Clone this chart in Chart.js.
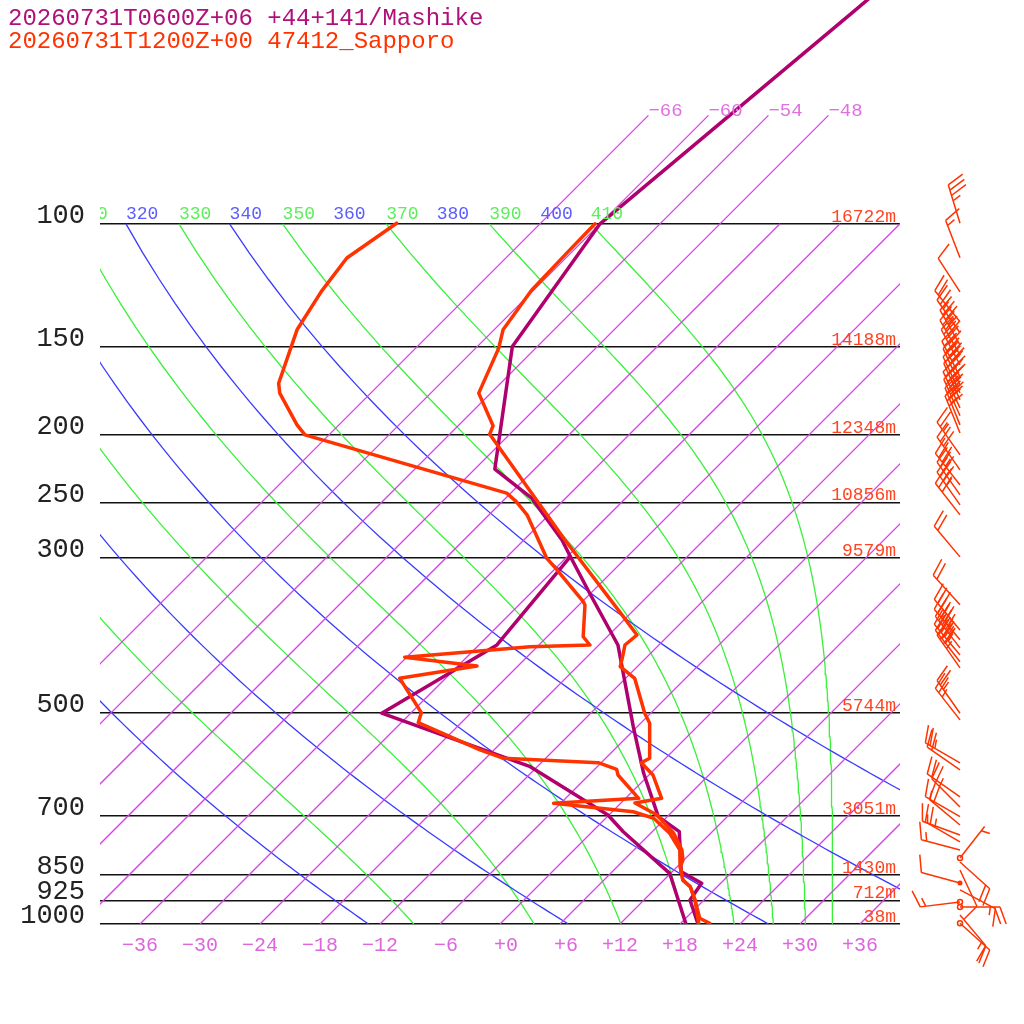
<!DOCTYPE html>
<html>
<head>
<meta charset="utf-8">
<title>Skew-T Sapporo / Mashike</title>
<script src="https://cdn.jsdelivr.net/npm/chart.js@4.4.1/dist/chart.umd.min.js"></script>
<style>
html, body { margin: 0; padding: 0; background: #fff; }
#box { width: 1024px; height: 1024px; }
</style>
</head>
<body>
<div id="box"><canvas id="skewt" width="1024" height="1024"></canvas></div>
<script>
// header lines
var titleFcst = '20260731T0600Z+06 +44+141/Mashike';
var titleObs = '20260731T1200Z+00 47412_Sapporo';

// horizontal pressure lines and the heights written on them
var pressureLevels = [100, 150, 200, 250, 300, 500, 700, 850, 925, 1000];
var levelHeights = ['16722m', '14188m', '12348m', '10856m', '9579m', '5744m', '3051m', '1430m', '712m', '38m'];
var tempTicks = [-36, -30, -24, -18, -12, -6, 0, 6, 12, 18, 24, 30, 36];

// background lines of the diagram
var isotherms = [-66, -60, -54, -48, -42, -36, -30, -24, -18, -12, -6, 0, 6, 12, 18, 24, 30, 36];
var isothermsHigh = [-66, -60, -54, -48];   // these run up to 70 hPa and get a label
var dryTheta = [240, 260, 280, 300, 320, 340, 360, 380, 400];
var moistThetaE = [250, 270, 290, 310, 330, 350, 370, 390, 410];

// Mashike forecast (purple)
var fcTempP = [40, 50, 100, 149.7, 224.0, 246.5, 282.8, 298.7, 337.0, 399.5, 522.6, 609.2, 702.6, 738.2, 842.0, 874.8, 924.1, 1000];
var fcTemp  = [-54.6, -55.9, -60.0, -56.5, -46.0, -39.4, -32.2, -29.7, -24.1, -16.1, -6.4, -0.7, 5.1, 8.7, 12.9, 16.1, 16.6, 19.8];
var fcDewP  = [298.7, 399.5, 500.0, 596.1, 698.8, 738.2, 846.5, 1000];
var fcDew   = [-29.7, -28.2, -32.9, -12.7, -0.1, 3.1, 11.9, 18.6];

// Sapporo sounding (red)
var obsTempP = [100, 110.2, 124.5, 141.7, 150.5, 174.5, 194.3, 199.7, 282.8, 363.9, 386.6, 399.5, 412.8, 429.0, 445.7, 500.0, 516.8, 579.9, 588.3, 612.6, 661.5, 671.7, 698.8, 742.0, 784.1, 810.4, 828.3, 865.6, 884.6, 924.1, 981.4, 997.7];
var obsTemp  = [-60.5, -60.4, -60.2, -59.1, -57.7, -55.2, -50.5, -50.0, -31.9, -18.4, -15.2, -15.4, -14.6, -13.7, -11.1, -6.6, -5.1, -1.6, -2.0, 0.4, 3.6, 1.4, 4.8, 8.3, 10.8, 11.9, 12.3, 13.9, 15.3, 17.1, 19.4, 20.9];
var obsDewP  = [99.8, 111.9, 124.9, 141.7, 168.9, 174.5, 193.7, 200.2, 242.5, 249.3, 260.4, 300.3, 312.1, 346.4, 350.2, 388.8, 399.5, 401.8, 415.9, 428.0, 445.7, 499.0, 515.8, 564.2, 579.9, 588.3, 601.2, 612.6, 661.5, 672.4, 691.3, 706.3, 742.0, 784.1, 815.6, 828.3, 865.6, 884.6, 924.1, 997.7];
var obsDew   = [-80.4, -81.9, -81.1, -79.7, -76.2, -75.1, -70.2, -68.4, -42.4, -40.6, -38.2, -31.9, -29.7, -23.9, -23.4, -20.4, -18.9, -24.7, -36.2, -28.1, -34.6, -29.0, -28.3, -19.4, -16.2, -6.3, -3.8, -3.1, 1.3, -6.7, 2.1, 4.8, 7.9, 10.6, 11.8, 12.3, 13.9, 15.3, 17.1, 19.8];

// Sapporo winds: pressure, direction (deg), speed (kt)
var windP   = [99.8, 111.8, 125.1, 138.0, 143.1, 148.9, 153.9, 159.0, 165.4, 169.8, 174.4, 178.4, 183.2, 188.0, 193.7, 198.9, 213.8, 224.6, 236.0, 243.9, 252.0, 260.4, 299.0, 350.1, 380.2, 392.8, 403.3, 412.8, 422.2, 430.7, 500.0, 511.1, 588.8, 602.6, 658.4, 680.5, 702.6, 722.2, 746.1, 763.5, 784.1, 804.8, 815.6, 837.4, 873.7, 894.0, 930.2, 945.6, 970.8, 997.7];
var windDir = [343, 339, 327, 321, 325, 330, 330, 332, 333, 335, 335, 336, 335, 336, 338, 338, 325, 325, 322, 325, 325, 322, 320, 318, 320, 320, 322, 320, 322, 325, 325, 322, 300, 305, 305, 315, 300, 310, 290, 300, 285, 38, 132, 155, 285, 118, 263, 90, 140, 132];
var windKt  = [35, 15, 10, 20, 25, 35, 40, 45, 50, 50, 50, 45, 45, 40, 35, 30, 25, 30, 35, 35, 35, 30, 20, 20, 35, 45, 45, 45, 40, 35, 25, 25, 25, 20, 20, 25, 15, 20, 15, 25, 15, 5, 20, 10, 10, 15, 15, 20, 15, 20];
var windRing = [804.8, 873.7, 930.2, 945.6, 997.7];   // levels drawn with a ring at the staff foot
var windRingFilled = 873.7;

var SKEW = 70;        // degrees of skew per decade of pressure
var KAPPA = 0.2857;
var P_TOP = 47.9;
var MONO = '"Liberation Mono", "DejaVu Sans Mono", monospace';

function skewX(t, p) { return t + SKEW * Math.log10(1000 / p); }

function satMix(tc, p) {
  var es = 6.112 * Math.exp(17.67 * tc / (tc + 243.5));
  return 622 * es / (p - es);
}
function thetaE(tc, p) {
  var tk = tc + 273.15, r = satMix(tc, p);
  return tk * Math.pow(1000 / p, 0.2854 * (1 - 0.00028 * r)) *
    Math.exp((3.376 / tk - 0.00254) * r * (1 + 0.00081 * r));
}
function moistT(te, p) {
  var lo = -150, hi = 40, mid = 0;
  for (var i = 0; i < 60; i++) {
    mid = (lo + hi) / 2;
    if (thetaE(mid, p) > te) hi = mid; else lo = mid;
  }
  return mid;
}
function dryT(th, p) { return th * Math.pow(p / 1000, KAPPA) - 273.15; }

function profile(ps, ts) {
  return ps.map(function (p, i) { return { x: skewX(ts[i], p), y: p }; });
}
function curve(fn) {
  var pts = [];
  for (var p = 1000; p >= 100; p -= 10) pts.push({ x: skewX(fn(p), p), y: p });
  return pts;
}

var datasets = [];
function bgLine(data, color) {
  datasets.push({ data: data, borderColor: color, backgroundColor: color, borderWidth: 1.3, pointRadius: 0, order: 10 });
}
function soundingLine(data, color, order) {
  datasets.push({ data: data, borderColor: color, borderWidth: 3.5, borderJoinStyle: 'round', borderCapStyle: 'round', pointRadius: 0, order: order });
}
isotherms.forEach(function (t) {
  var top = isothermsHigh.indexOf(t) >= 0 ? 70 : 100;
  bgLine([{ x: skewX(t, 1000), y: 1000 }, { x: skewX(t, top), y: top }], 'rgb(214,64,232)');
});
dryTheta.forEach(function (th) {
  bgLine(curve(function (p) { return dryT(th, p); }), 'rgb(58,58,255)');
});
moistThetaE.forEach(function (te) {
  bgLine(curve(function (p) { return moistT(te, p); }), 'rgb(58,240,58)');
});

soundingLine(profile(fcTempP, fcTemp), '#b0006e', 3);
soundingLine(profile(fcDewP, fcDew), '#b0006e', 3);
soundingLine(profile(obsTempP, obsTemp), '#ff3300', 1);
soundingLine(profile(obsDewP, obsDew), '#ff3300', 1);

function drawBarb(ctx, x0, y0, dir, kt) {
  var a = dir * Math.PI / 180;
  var ux = Math.sin(a), uy = -Math.cos(a);
  var L = 40;
  var tx = x0 + ux * L, ty = y0 + uy * L;
  ctx.beginPath();
  ctx.moveTo(x0, y0);
  ctx.lineTo(tx, ty);
  var r = 70 * Math.PI / 180, c = Math.cos(r), s = Math.sin(r);
  var fx = ux * c - uy * s, fy = ux * s + uy * c;
  var left = Math.round(kt / 5) * 5, pos = 0, step = 5.5, len = 18;
  while (left >= 10) {
    var bx = tx - ux * pos, by = ty - uy * pos;
    ctx.moveTo(bx, by);
    ctx.lineTo(bx + fx * len, by + fy * len);
    left -= 10; pos += step;
  }
  if (left >= 5) {
    if (pos === 0) pos = step;
    var hx = tx - ux * pos, hy = ty - uy * pos;
    ctx.moveTo(hx, hy);
    ctx.lineTo(hx + fx * len / 2, hy + fy * len / 2);
  }
  ctx.stroke();
}

var skewDecor = {
  id: 'skewDecor',
  afterDraw: function (chart) {
    var ctx = chart.ctx, xs = chart.scales.x, ys = chart.scales.y, area = chart.chartArea;
    var y100 = ys.getPixelForValue(100);

    // labels at the top of the adiabats and isotherms, cut at the plot edge
    ctx.save();
    ctx.beginPath();
    ctx.rect(area.left, 0, area.right - area.left, area.bottom);
    ctx.clip();
    ctx.textAlign = 'left';
    ctx.textBaseline = 'alphabetic';
    ctx.font = '18px ' + MONO;
    dryTheta.forEach(function (th) {
      ctx.fillStyle = '#5c5cff';
      ctx.fillText(String(th), xs.getPixelForValue(skewX(dryT(th, 100), 100)), y100 - 5);
    });
    moistThetaE.forEach(function (te) {
      ctx.fillStyle = '#5cee5c';
      ctx.fillText(String(te), xs.getPixelForValue(skewX(moistT(te, 100), 100)), y100 - 5);
    });
    ctx.font = '19px ' + MONO;
    ctx.fillStyle = '#e070e0';
    isothermsHigh.forEach(function (t) {
      ctx.fillText('\u2212' + Math.abs(t), xs.getPixelForValue(skewX(t, 70)), ys.getPixelForValue(70) + 1);
    });
    ctx.restore();

    ctx.save();
    ctx.font = '18px ' + MONO;
    ctx.fillStyle = '#ff4422';
    ctx.textAlign = 'right';
    ctx.textBaseline = 'alphabetic';
    pressureLevels.forEach(function (p, i) {
      ctx.fillText(levelHeights[i], area.right - 4, ys.getPixelForValue(p) - 2);
    });

    ctx.textAlign = 'left';
    ctx.font = '24px ' + MONO;
    ctx.fillStyle = '#b0107a';
    ctx.fillText(titleFcst, 8, 25);
    ctx.fillStyle = '#ff3300';
    ctx.fillText(titleObs, 8, 48);

    // wind barbs to the right of the diagram
    ctx.strokeStyle = '#ff3300';
    ctx.fillStyle = '#ff3300';
    ctx.lineWidth = 1.5;
    var bx = area.right + 60;
    windP.forEach(function (p, i) {
      var by = ys.getPixelForValue(p);
      drawBarb(ctx, bx, by, windDir[i], windKt[i]);
      if (windRing.indexOf(p) >= 0) {
        ctx.beginPath();
        ctx.arc(bx, by, 2.5, 0, 2 * Math.PI);
        if (p === windRingFilled) ctx.fill(); else ctx.stroke();
      }
    });
    ctx.restore();
  }
};

function fmtTemp(v) {
  var s = (v < 0 ? '\u2212' : '+') + Math.abs(v);
  return s.length < 3 ? ' ' + s : s;
}

new Chart(document.getElementById('skewt'), {
  type: 'line',
  data: { datasets: datasets },
  options: {
    responsive: false,
    animation: false,
    devicePixelRatio: 1,
    parsing: false,
    layout: { padding: { left: 0, right: 124, top: 0, bottom: 0 } },
    elements: { line: { tension: 0, fill: false } },
    plugins: { legend: { display: false }, tooltip: { enabled: false } },
    scales: {
      x: {
        type: 'linear',
        min: -40,
        max: 40,
        grid: { display: false },
        border: { display: false },
        afterBuildTicks: function (s) { s.ticks = tempTicks.map(function (v) { return { value: v }; }); },
        afterFit: function (s) { s.height = 100; s.paddingLeft = 0; s.paddingRight = 0; },
        ticks: {
          padding: 2,
          maxRotation: 0,
          autoSkip: false,
          color: '#dd66dd',
          font: { family: MONO, size: 20 },
          callback: function (v) { return fmtTemp(v); }
        }
      },
      y: {
        type: 'logarithmic',
        reverse: true,
        min: P_TOP,
        max: 1000,
        border: { display: false },
        grid: { color: '#111', lineWidth: 1.5, drawTicks: false },
        afterBuildTicks: function (s) { s.ticks = pressureLevels.map(function (v) { return { value: v }; }); },
        afterFit: function (s) { s.width = 100; s.paddingTop = 0; s.paddingBottom = 0; },
        ticks: {
          padding: 15,
          labelOffset: -8,
          autoSkip: false,
          color: '#222',
          font: { family: MONO, size: 27 },
          callback: function (v) { return String(v); }
        }
      }
    }
  },
  plugins: [skewDecor]
});
</script>
</body>
</html>
